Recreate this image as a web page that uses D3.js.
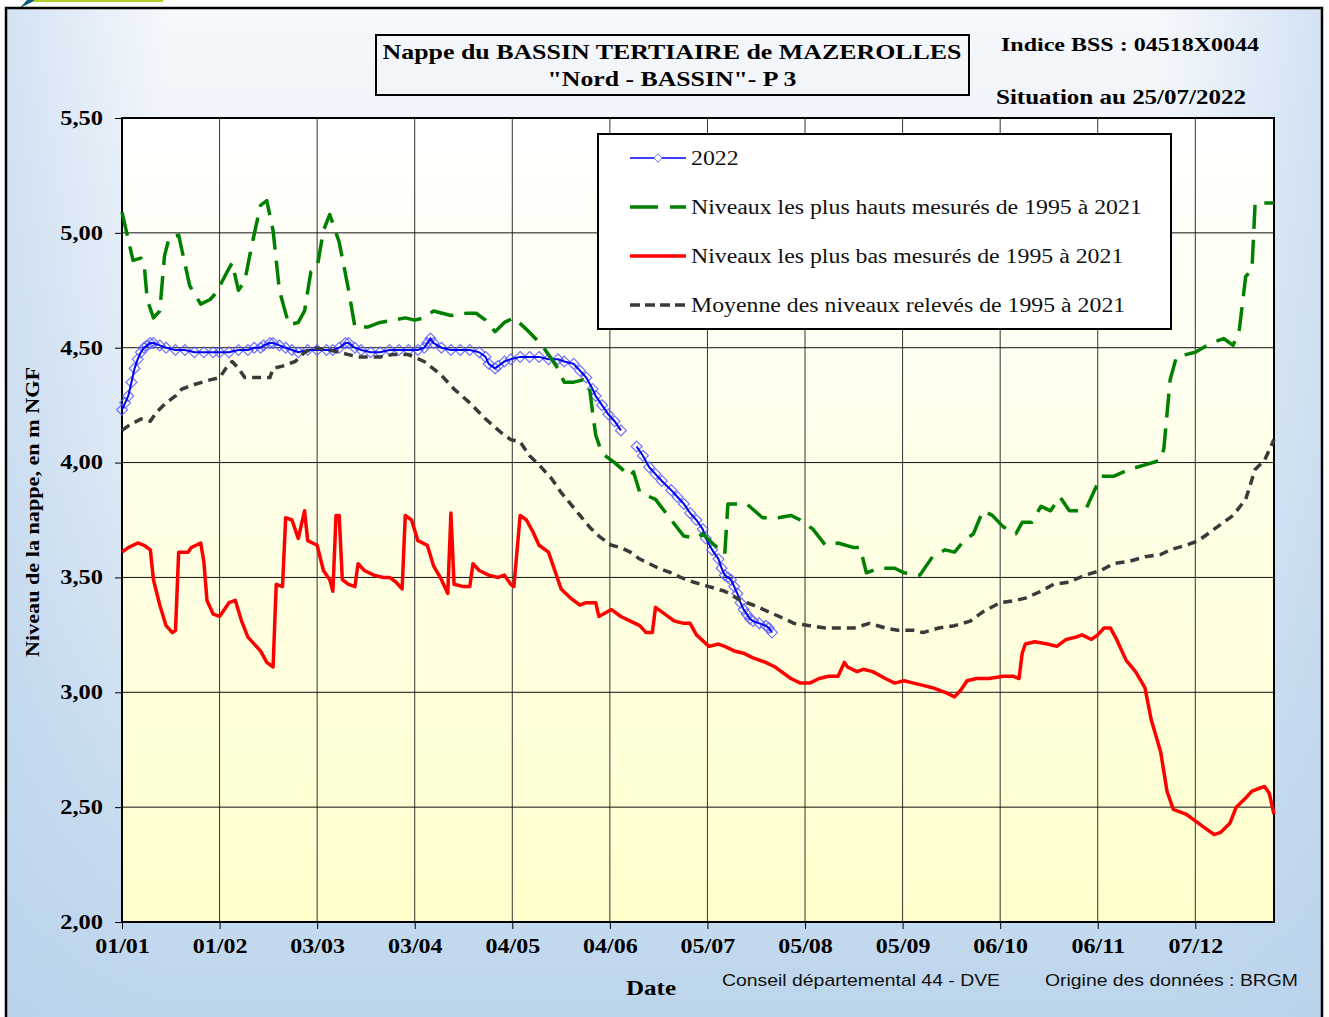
<!DOCTYPE html>
<html lang="fr">
<head>
<meta charset="utf-8">
<title>Nappe du BASSIN TERTIAIRE de MAZEROLLES</title>
<style>
  body { margin: 0; background: #fff; }
  svg { display: block; }
</style>
</head>
<body>
<div id="chart"></div>
<script src="https://d3js.org/d3.v7.min.js"></script>
<script>
// day of year (0 = 01/01, leap-year calendar, 366 days) and level in m NGF
var niveaux2022 = [
  [0,4.23],[1,4.26],[2,4.29],[3,4.35],[4,4.41],[5,4.45],[6,4.48],[7,4.50],[8,4.51],[9,4.52],[10,4.52],
  [12,4.51],[14,4.50],[17,4.49],[20,4.49],[23,4.48],[26,4.48],[29,4.48],[31,4.48],[34,4.48],[37,4.49],
  [40,4.49],[42,4.50],[44,4.50],[45,4.51],[47,4.52],[48,4.52],[50,4.51],[52,4.50],[54,4.49],[56,4.48],
  [59,4.49],[62,4.49],[65,4.49],[67,4.49],[69,4.50],[71,4.52],[72,4.52],[74,4.50],[76,4.49],[79,4.48],
  [82,4.48],[85,4.49],[88,4.49],[91,4.49],[94,4.49],[96,4.50],[97,4.52],[98,4.54],[99,4.52],[101.5,4.50],
  [104.5,4.49],[107.5,4.49],[110.5,4.49],[113.5,4.48],[115.5,4.46],[116.5,4.43],[118.5,4.41],[119.5,4.42],
  [121.5,4.44],[123.5,4.45],[126.5,4.46],[129.5,4.46],[132.5,4.46],[135.5,4.45],[138.5,4.45],[140.5,4.44],
  [143.5,4.43],[145.5,4.40],[147.5,4.37],[149.5,4.32],[150.5,4.29],[152.5,4.25],[154.5,4.21],[156.5,4.18],
  [158.5,4.14],[160.5,null],
  [163.5,4.07],[165.5,4.03],[167.5,3.98],[169.5,3.95],[171.5,3.92],[174.5,3.88],[176.5,3.85],[178.5,3.82],
  [180.5,3.78],[182.5,3.75],[184.5,3.71],[185.5,3.67],[187.5,3.62],[189.5,3.58],[190.5,3.54],[191.5,3.51],
  [192.5,3.50],[193.5,3.49],[194.5,3.46],[195.5,3.43],[196.5,3.39],[197.5,3.36],[198.5,3.34],[199.5,3.32],
  [200.5,3.31],[202.5,3.30],[204.5,3.29],[205.5,3.28],[206.5,3.26]
];

var niveauxHauts = [
  [0,5.09],[2,4.97],[3.5,4.88],[6,4.89],[7,4.87],[8,4.71],[10,4.63],[12,4.66],[13.5,4.90],[15,4.98],
  [18,4.99],[21.5,4.77],[25,4.69],[28,4.71],[30,4.74],[33,4.82],[35,4.87],[37,4.75],[39,4.79],[41,4.93],
  [44,5.12],[46,5.14],[48,5.01],[50,4.75],[53,4.60],[56,4.61],[58,4.66],[60,4.83],[62,4.85],[64,5.01],
  [66,5.08],[69,4.96],[72,4.75],[74,4.59],[78,4.59],[82,4.61],[86,4.62],[90,4.63],[93,4.62],[96,4.63],
  [99,4.66],[104.5,4.64],[109.5,4.65],[112.5,4.65],[115.5,4.62],[118.5,4.57],[121.5,4.61],[124.5,4.63],
  [128.5,4.58],[133.5,4.51],[138.5,4.41],[140.5,4.35],[143.5,4.35],[146.5,4.36],[148.5,4.33],[149.5,4.22],
  [150.5,4.12],[152.5,4.04],[156.5,4.00],[161.5,3.94],[162.5,3.96],[164.5,3.87],[169.5,3.84],[174.5,3.75],
  [178.5,3.68],[182.5,3.67],[184.5,3.69],[187.5,3.65],[191.5,3.60],[192.5,3.82],[198.5,3.82],[203.5,3.76],
  [208.5,3.76],[212.5,3.77],[215.5,3.75],[219.5,3.71],[223.5,3.64],[227.5,3.65],[232.5,3.63],[234.5,3.63],
  [236.5,3.52],[240.5,3.54],[245.5,3.54],[248.5,3.52],[253.5,3.51],[257.5,3.59],[261.5,3.62],[264.5,3.61],
  [267.5,3.66],[270.5,3.69],[273.5,3.79],[276.5,3.77],[280,3.72],[284,3.69],[286,3.74],[289,3.74],
  [292,3.81],[295,3.79],[298,3.85],[301,3.79],[306,3.79],[311,3.94],[315,3.94],[320,3.97],[325,3.99],
  [330,4.01],[331,4.06],[333,4.36],[335,4.46],[341,4.48],[346,4.52],[350,4.54],[353,4.51],[355,4.58],
  [357,4.81],[359,4.84],[360,5.13],[366,5.13]
];

var niveauxBas = [
  [0,3.61],[2,3.63],[5,3.65],[7,3.64],[9,3.62],[10,3.49],[12,3.38],[14,3.29],[16,3.26],[17,3.27],
  [18,3.61],[21,3.61],[22,3.63],[25,3.65],[26,3.57],[27,3.40],[29,3.34],[31,3.33],[34,3.39],[36,3.40],
  [38,3.31],[40,3.24],[44,3.18],[46,3.13],[48,3.11],[49,3.47],[51,3.46],[52,3.76],[54,3.75],[56,3.67],
  [58,3.79],[59,3.66],[62,3.64],[64,3.53],[66,3.49],[67,3.44],[68,3.77],[69,3.77],[70,3.49],[72,3.47],
  [74,3.46],[75,3.56],[77,3.53],[80,3.51],[83,3.50],[85,3.50],[87,3.48],[89,3.45],[90,3.77],[92,3.75],
  [94,3.66],[97,3.64],[99,3.55],[101.5,3.49],[103.5,3.43],[104.5,3.78],[105.5,3.47],[108.5,3.46],
  [110.5,3.46],[111.5,3.56],[113.5,3.53],[116.5,3.51],[119.5,3.50],[121.5,3.51],[123.5,3.47],[124.5,3.46],
  [126.5,3.77],[128.5,3.75],[130.5,3.70],[132.5,3.64],[135.5,3.61],[137.5,3.53],[139.5,3.45],[142.5,3.41],
  [145.5,3.38],[147.5,3.39],[150.5,3.39],[151.5,3.33],[155.5,3.36],[158.5,3.33],[161.5,3.31],[164.5,3.29],
  [166.5,3.26],[168.5,3.26],[169.5,3.37],[172.5,3.34],[175.5,3.31],[178.5,3.30],[180.5,3.30],[182.5,3.25],
  [186.5,3.20],[189.5,3.21],[191.5,3.20],[194.5,3.18],[197.5,3.17],[200.5,3.15],[204.5,3.13],[207.5,3.11],
  [208.5,3.10],[212.5,3.06],[215.5,3.04],[218.5,3.04],[221.5,3.06],[224.5,3.07],[227.5,3.07],[229.5,3.13],
  [230.5,3.11],[233.5,3.09],[235.5,3.10],[238.5,3.09],[242.5,3.06],[245.5,3.04],[248.5,3.05],[251.5,3.04],
  [254.5,3.03],[257.5,3.02],[261.5,3.00],[264.5,2.98],[266.5,3.01],[268.5,3.05],[271.5,3.06],[275.5,3.06],
  [280,3.07],[283,3.07],[285,3.06],[286,3.17],[287,3.21],[290,3.22],[294,3.21],[297,3.20],[300,3.23],
  [303,3.24],[305,3.25],[308,3.23],[310,3.25],[312,3.28],[314,3.28],[316,3.23],[319,3.14],[322,3.09],
  [325,3.02],[327,2.88],[330,2.74],[332,2.57],[334,2.49],[338,2.47],[341,2.44],[344,2.41],[347,2.38],
  [349,2.39],[352,2.43],[354,2.50],[357,2.54],[359,2.57],[361,2.58],[363,2.59],[364.5,2.56],[366,2.47]
];

var niveauxMoyens = [
  [0,4.14],[2,4.16],[6,4.19],[9,4.18],[11,4.22],[14,4.26],[17,4.29],[19,4.32],[23,4.34],[28,4.36],
  [31,4.37],[33,4.41],[35,4.44],[37,4.41],[39,4.37],[42,4.37],[47,4.37],[48,4.41],[51,4.42],[55,4.44],
  [58,4.48],[61,4.50],[66,4.49],[69,4.48],[72,4.47],[75,4.46],[82,4.46],[86,4.47],[91,4.47],[96,4.44],
  [101.5,4.38],[105.5,4.32],[110.5,4.26],[115.5,4.19],[120.5,4.13],[123.5,4.10],[126.5,4.09],[129.5,4.03],
  [132.5,3.99],[136.5,3.93],[139.5,3.87],[142.5,3.82],[145.5,3.77],[148.5,3.72],[151.5,3.68],[155.5,3.64],
  [158.5,3.63],[161.5,3.61],[164.5,3.58],[167.5,3.56],[170.5,3.54],[174.5,3.52],[177.5,3.50],[181.5,3.48],
  [186.5,3.46],[191.5,3.44],[196.5,3.40],[200.5,3.38],[205.5,3.35],[210.5,3.32],[213.5,3.30],[218.5,3.29],
  [223.5,3.28],[227.5,3.28],[232.5,3.28],[237.5,3.30],[242.5,3.28],[246.5,3.27],[251.5,3.27],[254.5,3.26],
  [259.5,3.28],[264.5,3.29],[269.5,3.31],[273.5,3.35],[279,3.39],[284,3.40],[287,3.41],[292,3.44],
  [296,3.47],[301,3.48],[306,3.51],[311,3.53],[315,3.56],[320,3.57],[325,3.59],[330,3.60],[333,3.62],
  [338,3.64],[342,3.66],[347,3.71],[353,3.77],[357,3.84],[360,3.97],[363,4.01],[366,4.10]
];

var tickDays = [0, 31, 62, 93, 124, 155, 186, 217, 248, 279, 310, 341];
var tickLabels = ["01/01","01/02","03/03","03/04","04/05","04/06","05/07","05/08","05/09","06/10","06/11","07/12"];
var yTicks = [2, 2.5, 3, 3.5, 4, 4.5, 5, 5.5];

var legendLabels = [
  "2022",
  "Niveaux les plus hauts mesurés de 1995 à 2021",
  "Niveaux les plus bas mesurés de 1995 à 2021",
  "Moyenne des niveaux relevés de 1995 à 2021"
];

var W = 1329, H = 1017,
  margins = {top: 118, right: 55, bottom: 95, left: 122},
  width = W - margins.left - margins.right,   // 1152
  height = H - margins.top - margins.bottom    // 804

var serif = "'Liberation Serif', 'Times New Roman', serif"
var sans = "'Liberation Sans', Arial, sans-serif"

// the original text is drawn a bit wider than the font's natural width
function stretch(sel, k) {
  sel.each(function() {
    var w = this.getComputedTextLength()
    d3.select(this).attr("textLength", w * k).attr("lengthAdjust", "spacingAndGlyphs")
  })
}

var root = d3.select("#chart").append("svg")
  .attr("width", W)
  .attr("height", H)

var defs = root.append("defs")
var bg = defs.append("linearGradient").attr("id", "bgGrad")
  .attr("x1", 0).attr("y1", 0).attr("x2", 0).attr("y2", 1)
bg.append("stop").attr("offset", "0%").attr("stop-color", "#f5f8fc")
bg.append("stop").attr("offset", "45%").attr("stop-color", "#e2ecf7")
bg.append("stop").attr("offset", "100%").attr("stop-color", "#bcd5ec")

var bgSide = defs.append("linearGradient").attr("id", "bgSide")
  .attr("x1", 0).attr("y1", 0).attr("x2", 1).attr("y2", 0)
bgSide.append("stop").attr("offset", "0%").attr("stop-color", "#b8d2eb").attr("stop-opacity", 0.55)
bgSide.append("stop").attr("offset", "12%").attr("stop-color", "#b8d2eb").attr("stop-opacity", 0)
bgSide.append("stop").attr("offset", "88%").attr("stop-color", "#b8d2eb").attr("stop-opacity", 0)
bgSide.append("stop").attr("offset", "100%").attr("stop-color", "#b8d2eb").attr("stop-opacity", 0.55)

var plotGrad = defs.append("linearGradient").attr("id", "plotGrad")
  .attr("x1", 0).attr("y1", 0).attr("x2", 0).attr("y2", 1)
plotGrad.append("stop").attr("offset", "0%").attr("stop-color", "#ffffff")
plotGrad.append("stop").attr("offset", "100%").attr("stop-color", "#ffffcc")

// logo remnants top-left
root.append("path").attr("d", "M20,8 L36,0 L27,0 Z").attr("fill", "#0e5a7e")
root.append("rect").attr("x", 34).attr("y", 0).attr("width", 129).attr("height", 2).attr("fill", "#b5cf2a")

// outer frame
root.append("rect").attr("x", 6).attr("y", 8).attr("width", 1316).attr("height", 1015)
  .attr("fill", "url(#bgGrad)")
root.append("rect").attr("x", 6).attr("y", 8).attr("width", 1316).attr("height", 1015)
  .attr("fill", "url(#bgSide)")
  .attr("stroke", "#000").attr("stroke-width", 2.5)

var svg = root.append("g")
  .attr("transform", "translate(" + margins.left + "," + margins.top + ")")

var x = d3.scaleLinear().domain([0, 366]).range([0, width])
var y = d3.scaleLinear().domain([2, 5.5]).range([height, 0])

svg.append("rect").attr("width", width).attr("height", height).attr("fill", "url(#plotGrad)")

// grid
svg.append("g")
  .selectAll("line.v").data(tickDays.slice(1)).enter().append("line")
  .attr("x1", function(d) { return x(d) }).attr("x2", function(d) { return x(d) })
  .attr("y1", 0).attr("y2", height)
  .attr("stroke", "#333").attr("stroke-width", 1)
svg.append("g")
  .selectAll("line.h").data(yTicks.slice(1, -1)).enter().append("line")
  .attr("x1", 0).attr("x2", width)
  .attr("y1", function(d) { return y(d) }).attr("y2", function(d) { return y(d) })
  .attr("stroke", "#111").attr("stroke-width", 1)

// axes
var xAxis = svg.append("g")
  .attr("transform", "translate(0," + height + ")")
  .call(d3.axisBottom(x).tickValues(tickDays).tickFormat(function(d, i) { return tickLabels[i] })
    .tickSizeInner(7).tickSizeOuter(0).tickPadding(10))
xAxis.select(".domain").remove()
xAxis.selectAll("text").attr("font-family", serif).attr("font-weight", "bold")
  .attr("font-size", 20).attr("fill", "#000")
xAxis.selectAll("line").attr("stroke", "#000")
stretch(xAxis.selectAll("text"), 1.2)

var yAxis = svg.append("g")
  .call(d3.axisLeft(y).tickValues(yTicks)
    .tickFormat(function(d) { return d3.format(".2f")(d).replace(".", ",") })
    .tickSizeInner(7).tickSizeOuter(0).tickPadding(12))
yAxis.select(".domain").remove()
yAxis.selectAll("text").attr("font-family", serif).attr("font-weight", "bold")
  .attr("font-size", 20).attr("fill", "#000")
yAxis.selectAll("line").attr("stroke", "#000")
stretch(yAxis.selectAll("text"), 1.22)

svg.append("rect").attr("width", width).attr("height", height)
  .attr("fill", "none").attr("stroke", "#000").attr("stroke-width", 2)

// series
var line = d3.line()
  .defined(function(d) { return d[1] !== null })
  .x(function(d) { return x(d[0]) })
  .y(function(d) { return y(d[1]) })

var plot = svg.append("g")

var pts = niveaux2022.filter(function(d) { return d[1] !== null })
plot.selectAll("path.mk").data(pts).enter().append("path")
  .attr("d", d3.symbol().type(d3.symbolDiamond2).size(75))
  .attr("transform", function(d) { return "translate(" + x(d[0]) + "," + y(d[1]) + ")" })
  .attr("fill", "none").attr("stroke", "#5a5aff").attr("stroke-width", 1.2).attr("stroke-opacity", 0.85)
plot.append("path").datum(niveaux2022).attr("d", line)
  .attr("fill", "none").attr("stroke", "#0000ff").attr("stroke-width", 2)

plot.append("path").datum(niveauxHauts).attr("d", line)
  .attr("fill", "none").attr("stroke", "#008000").attr("stroke-width", 3.5)
  .attr("stroke-dasharray", "24,11").attr("stroke-linejoin", "round")

plot.append("path").datum(niveauxBas).attr("d", line)
  .attr("fill", "none").attr("stroke", "#ff0000").attr("stroke-width", 3.5)
  .attr("stroke-linejoin", "round")

plot.append("path").datum(niveauxMoyens).attr("d", line)
  .attr("fill", "none").attr("stroke", "#3a3a3a").attr("stroke-width", 3.5)
  .attr("stroke-dasharray", "9,6").attr("stroke-linejoin", "round")

// legend
var lg = root.append("g").attr("transform", "translate(598,134)")
lg.append("rect").attr("width", 573).attr("height", 195)
  .attr("fill", "#fff").attr("stroke", "#000").attr("stroke-width", 2)
var lgStyles = [
  {c: "#0000ff", w: 1.6, dash: null},
  {c: "#008000", w: 3.5, dash: "28,12"},
  {c: "#ff0000", w: 3.5, dash: null},
  {c: "#3a3a3a", w: 3.5, dash: "10,5"}
]
legendLabels.forEach(function(t, i) {
  var yy = 24 + i * 49
  lg.append("line").attr("x1", 32).attr("x2", 88).attr("y1", yy).attr("y2", yy)
    .attr("stroke", lgStyles[i].c).attr("stroke-width", lgStyles[i].w)
    .attr("stroke-dasharray", lgStyles[i].dash)
  if (i === 0) {
    lg.append("path").attr("d", d3.symbol().type(d3.symbolDiamond2).size(45))
      .attr("transform", "translate(60," + yy + ")")
      .attr("fill", "#fff").attr("stroke", "#6b6bff").attr("stroke-width", 1)
  }
  var tx = lg.append("text").attr("x", 93).attr("y", yy + 7).text(t)
    .attr("font-family", serif).attr("font-size", 20).attr("fill", "#111")
  stretch(tx, 1.19)
})

// titles
root.append("rect").attr("x", 376).attr("y", 35).attr("width", 593).attr("height", 60)
  .attr("fill", "none").attr("stroke", "#000").attr("stroke-width", 2)
root.append("text").attr("x", 672).attr("y", 59).attr("text-anchor", "middle")
  .attr("font-family", serif).attr("font-weight", "bold").attr("font-size", 22)
  .attr("textLength", 579).attr("lengthAdjust", "spacingAndGlyphs")
  .text("Nappe du BASSIN TERTIAIRE de MAZEROLLES")
root.append("text").attr("x", 672).attr("y", 86).attr("text-anchor", "middle")
  .attr("font-family", serif).attr("font-weight", "bold").attr("font-size", 22)
  .attr("textLength", 249).attr("lengthAdjust", "spacingAndGlyphs")
  .text("\"Nord - BASSIN\"- P 3")
root.append("text").attr("x", 1001).attr("y", 51)
  .attr("font-family", serif).attr("font-weight", "bold").attr("font-size", 19)
  .attr("textLength", 258).attr("lengthAdjust", "spacingAndGlyphs")
  .text("Indice BSS : 04518X0044")
root.append("text").attr("x", 996).attr("y", 104)
  .attr("font-family", serif).attr("font-weight", "bold").attr("font-size", 20)
  .attr("textLength", 250).attr("lengthAdjust", "spacingAndGlyphs")
  .text("Situation au 25/07/2022")

root.append("text")
  .attr("transform", "translate(39,512) rotate(-90)")
  .attr("text-anchor", "middle")
  .attr("font-family", serif).attr("font-weight", "bold").attr("font-size", 19)
  .attr("textLength", 290).attr("lengthAdjust", "spacingAndGlyphs")
  .text("Niveau de la nappe, en m NGF")

root.append("text").attr("x", 651).attr("y", 995).attr("text-anchor", "middle")
  .attr("font-family", serif).attr("font-weight", "bold").attr("font-size", 21)
  .attr("textLength", 50).attr("lengthAdjust", "spacingAndGlyphs")
  .text("Date")
root.append("text").attr("x", 722).attr("y", 986)
  .attr("font-family", sans).attr("font-size", 17).attr("fill", "#111")
  .attr("textLength", 278).attr("lengthAdjust", "spacingAndGlyphs")
  .text("Conseil départemental 44 - DVE")
root.append("text").attr("x", 1045).attr("y", 986)
  .attr("font-family", sans).attr("font-size", 17).attr("fill", "#111")
  .attr("textLength", 253).attr("lengthAdjust", "spacingAndGlyphs")
  .text("Origine des données : BRGM")
</script>
</body>
</html>
